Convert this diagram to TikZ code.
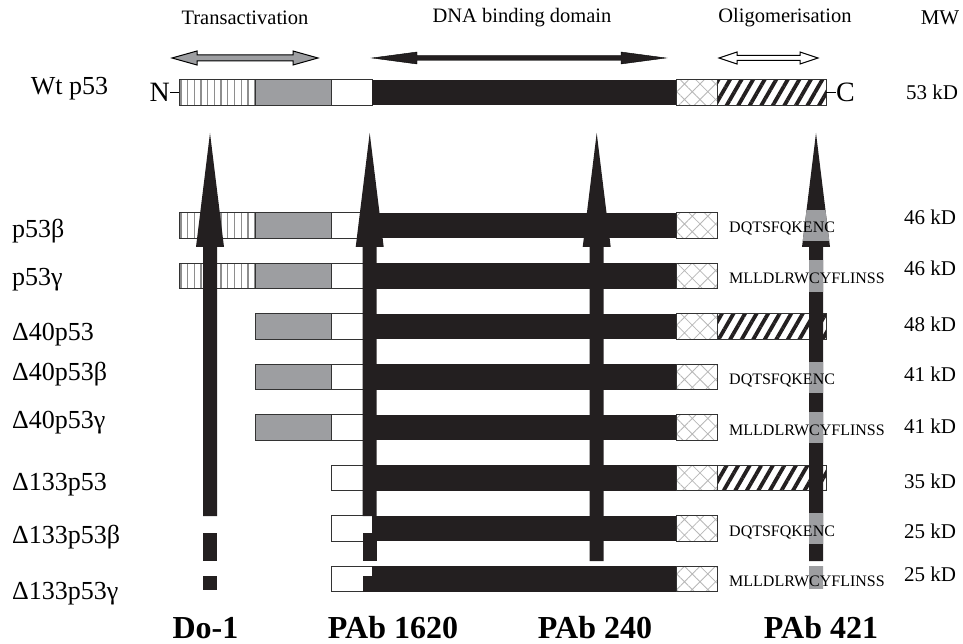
\documentclass[tikz,border=0pt]{standalone}
\usepackage{fontspec}
\setmainfont{Liberation Serif}
\usetikzlibrary{patterns.meta}

\definecolor{DomBlack}{HTML}{231F20}
\definecolor{DomGray}{HTML}{9D9EA1}
\definecolor{Stripe}{HTML}{8E8E8E}
\definecolor{Cross}{HTML}{B8B8B8}
\definecolor{Edge}{HTML}{333333}

\tikzset{
  tadone/.style={draw=Edge,line width=0.9pt,preaction={fill=white},
    pattern={Lines[angle=90,distance=6.7pt,line width=1.3pt]},pattern color=Stripe},
  tadtwo/.style={draw=Edge,line width=0.9pt,fill=DomGray},
  prd/.style={draw=Edge,line width=0.9pt,fill=white},
  dbd/.style={fill=DomBlack},
  nls/.style={draw=Edge,line width=0.9pt,preaction={fill=white},
    pattern={Hatch[angle=45,distance=11pt,line width=0.8pt]},pattern color=Cross},
  olig/.style={draw=Edge,line width=0.9pt,preaction={fill=white},
    pattern={Lines[angle=60,distance=10pt,line width=3.8pt]},pattern color=DomBlack},
  isoname/.style={anchor=base west,font=\fontsize{26}{28}\selectfont},
  mwlabel/.style={anchor=base west,font=\fontsize{21}{24}\selectfont},
  cterm/.style={anchor=base west,font=\fontsize{16}{18}\selectfont},
  domname/.style={font=\fontsize{20.5}{23}\selectfont},
  abname/.style={anchor=base,font=\bfseries\fontsize{32}{36}\selectfont},
}

% double headed domain arrow: style, x1, x2, y, head length, head half width, shaft half width
\newcommand{\domarrow}[7]{%
  \draw[#1] (#2,#4) -- (#2+#5,#4-#6) -- (#2+#5,#4-#7) -- (#3-#5,#4-#7)
    -- (#3-#5,#4-#6) -- (#3,#4) -- (#3-#5,#4+#6) -- (#3-#5,#4+#7)
    -- (#2+#5,#4+#7) -- (#2+#5,#4+#6) -- cycle;}

% antibody arrow: centre x, end of shaft
\newcommand{\abarrow}[2]{%
  \fill[DomBlack] (#1-7,#2) -- (#1-7,247) -- (#1-14,247) -- (#1,133)
    -- (#1+14,247) -- (#1+7,247) -- (#1+7,#2) -- cycle;}

\begin{document}
\begin{tikzpicture}[x=1pt,y=-1pt,every node/.style={inner sep=0pt}]
  \useasboundingbox (0,0) rectangle (963,644);

  % Domain names
  \node[domname] (head-ta) at (245,18) {Transactivation};
  \node[domname] (head-dbd) at (522,18) {DNA binding domain};
  \node[domname] (head-olig) at (785,18) {Oligomerisation};
  \node[domname,font=\fontsize{21}{24}\selectfont] (head-mw) at (940,18) {MW};

  % Domain arrows
  \domarrow{draw=black,line width=1pt,fill=DomGray}{172}{318}{58}{25}{7}{3}
  \domarrow{fill=DomBlack}{372}{666}{58}{45}{6}{2.5}
  \domarrow{draw=black,line width=1pt,fill=white}{719}{818}{58}{18}{6}{2.5}

  % Boxes common to every isoform
  \foreach \yc in {92.5,225.5,276,326.5,377,427.5,478,528.5,579} {
    \draw[prd] (331,\yc-12.75) rectangle (372,\yc+12.75);
    \fill[dbd] (372,\yc-12.75) rectangle (676,\yc+12.75);
    \draw[nls] (676,\yc-12.75) rectangle (717,\yc+12.75);
  }
  % Second transactivation box
  \foreach \yc in {92.5,225.5,276,326.5,377,427.5}
    \draw[tadtwo] (255,\yc-12.75) rectangle (331,\yc+12.75);
  % First transactivation box
  \foreach \yc in {92.5,225.5,276}
    \draw[tadone] (179,\yc-12.75) rectangle (255,\yc+12.75);
  % Oligomerisation domain
  \foreach \yc in {92.5,326.5,478}
    \draw[olig] (717,\yc-12.75) rectangle (826,\yc+12.75);

  % Termini of wild type
  \node[anchor=base east,font=\fontsize{28}{30}\selectfont] (nterm) at (170,101.7) {N};
  \node[anchor=base west,font=\fontsize{28}{30}\selectfont] (cterm) at (836,101.7) {C};
  \draw[line width=0.8pt] (nterm.east |- 0,92.5) -- (179,92.5);
  \draw[line width=0.8pt] (826,92.5) -- (cterm.west |- 0,92.5);

  % Antibody arrows
  \abarrow{210}{516}
  \fill[DomBlack] (203,533) rectangle (217,561);
  \fill[DomBlack] (203,576) rectangle (217,589.5);
  \abarrow{369.7}{516}
  \fill[DomBlack] (362.7,533) rectangle (376.7,561);
  \fill[DomBlack] (362.7,576) rectangle (376.7,591.5);
  \abarrow{596.7}{561}
  \abarrow{816}{561}

  % PAb 421 epitope missing in beta and gamma forms
  \begin{scope}
    \clip (809,590) -- (809,247) -- (802,247) -- (816,133) -- (830,247)
      -- (823,247) -- (823,590) -- cycle;
    \foreach \yc in {225.5,276,377,427.5,528.5}
      \fill[DomGray] (795,\yc-15.5) rectangle (835,\yc+15.5);
    \fill[DomGray] (795,566) rectangle (835,589);
  \end{scope}

  % Isoform names
  \node[isoname] (iso-wt) at (30.7,95) {Wt p53};
  \node[isoname] (iso-b) at (12,238) {p53β};
  \node[isoname] (iso-g) at (12,285) {p53γ};
  \node[isoname] (iso-d40) at (12,340) {Δ40p53};
  \node[isoname] (iso-d40b) at (12,380) {Δ40p53β};
  \node[isoname] (iso-d40g) at (12,428) {Δ40p53γ};
  \node[isoname] (iso-d133) at (12,490.7) {Δ133p53};
  \node[isoname] (iso-d133b) at (12,543) {Δ133p53β};
  \node[isoname] (iso-d133g) at (12,599) {Δ133p53γ};

  % Alternative C-terminal peptides
  \node[cterm] (pep-b) at (729,233) {DQTSFQKENC};
  \node[cterm] (pep-g) at (729,283.5) {MLLDLRWCYFLINSS};
  \node[cterm] (pep-d40b) at (729,384.5) {DQTSFQKENC};
  \node[cterm] (pep-d40g) at (729,435) {MLLDLRWCYFLINSS};
  \node[cterm] (pep-d133b) at (729,536) {DQTSFQKENC};
  \node[cterm] (pep-d133g) at (729,586.5) {MLLDLRWCYFLINSS};

  % Molecular weights
  \node[mwlabel] (mw-wt) at (906,100) {53 kD};
  \node[mwlabel] (mw-b) at (904,225) {46 kD};
  \node[mwlabel] (mw-g) at (904,275) {46 kD};
  \node[mwlabel] (mw-d40) at (904,331.7) {48 kD};
  \node[mwlabel] (mw-d40b) at (904,381.7) {41 kD};
  \node[mwlabel] (mw-d40g) at (904,433) {41 kD};
  \node[mwlabel] (mw-d133) at (904,488) {35 kD};
  \node[mwlabel] (mw-d133b) at (904,538) {25 kD};
  \node[mwlabel] (mw-d133g) at (904,581.7) {25 kD};

  % Antibodies
  \node[abname] (ab-do1) at (205.5,638) {Do-1};
  \node[abname] (ab-1620) at (393,638) {PAb 1620};
  \node[abname] (ab-240) at (595,638) {PAb 240};
  \node[abname] (ab-421) at (821,638) {PAb 421};
\end{tikzpicture}
\end{document}
